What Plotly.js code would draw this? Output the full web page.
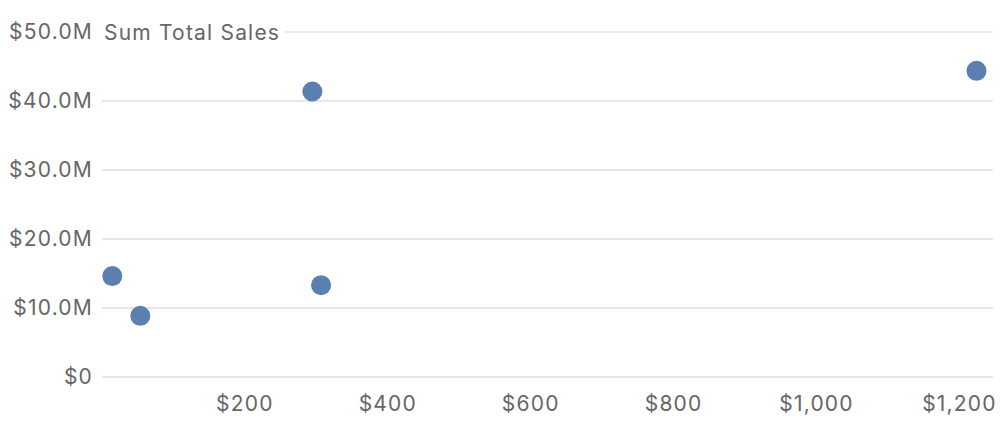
<!DOCTYPE html>
<html>
<head>
<meta charset="utf-8">
<script src="https://cdn.plot.ly/plotly-3.0.1.min.js"></script>
<style>
  html, body { margin: 0; padding: 0; background: #fff; }
  #fig { width: 1000px; height: 430px; }
  /* the reference face runs wider than Inter, open it up a little */
  #fig text { letter-spacing: 1.2px; }
</style>
</head>
<body>
<div id="fig"></div>
<script>
// data: x in dollars, y = sum total sales
var price = [14.4, 53.6, 294.4, 306.6, 1223.9];
var totalSales = [14.62e6, 8.86e6, 41.38e6, 13.31e6, 44.38e6];

var xTicks = [200, 400, 600, 800, 1000, 1200];
var xTickText = ['$200', '$400', '$600', '$800', '$1,000', '$1,200'];
var yTicks = [0, 10e6, 20e6, 30e6, 40e6, 50e6];
var yTickText = ['$0', '$10.0M', '$20.0M', '$30.0M', '$40.0M', '$50.0M'];
var yTitle = 'Sum Total Sales';

var grey = '#666666';
var font = { family: 'Inter, "Noto Sans", sans-serif', size: 21, color: grey };

var series = [{
  x: price,
  y: totalSales,
  type: 'scatter',
  mode: 'markers',
  marker: { color: '#5b7fae', size: 20 },
  cliponaxis: false,
  hoverinfo: 'x+y'
}];

var layout = {
  width: 1000,
  height: 430,
  margin: { l: 102, r: 7, t: 30, b: 51 },
  paper_bgcolor: '#ffffff',
  plot_bgcolor: '#ffffff',
  showlegend: false,
  font: font,
  xaxis: {
    range: [0, 1247],
    tickvals: xTicks,
    ticktext: xTickText,
    showgrid: false,
    zeroline: false,
    showline: false,
    ticks: '',
    ticklabelstandoff: 10,
    tickfont: font
  },
  yaxis: {
    // padded a hair so the $0 and $50.0M grid lines are not dropped at the edges
    range: [-0.3e6, 50.3e6],
    tickvals: yTicks,
    ticktext: yTickText,
    showgrid: true,
    gridcolor: '#e8e8e8',
    gridwidth: 2,
    zeroline: false,
    showline: false,
    ticks: '',
    ticklabelstandoff: 8,
    tickfont: font
  },
  annotations: [{
    // title sits on the top grid line, white box hides the line behind it
    text: yTitle,
    xref: 'paper', x: 0, xanchor: 'left', xshift: -4,
    yref: 'y', y: 50e6, yanchor: 'middle',
    showarrow: false,
    bgcolor: '#ffffff',
    borderpad: 14,
    font: font
  }]
};

Plotly.newPlot('fig', series, layout, { displayModeBar: false, staticPlot: true });
</script>
</body>
</html>
